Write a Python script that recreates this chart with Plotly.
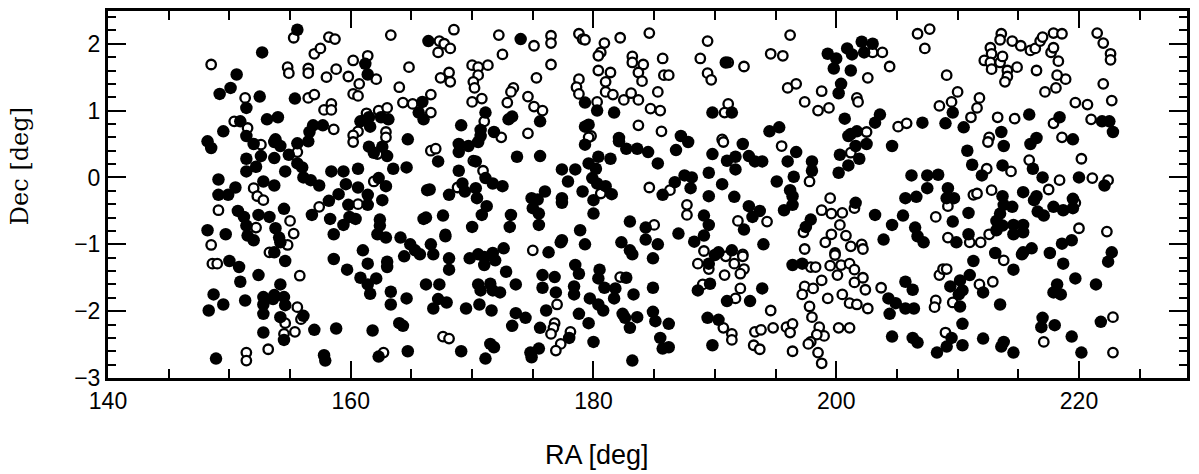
import plotly.graph_objects as go

# Filled points (RA, Dec)
filled = [
(155.6,2.21),(152.7,1.87),(150.6,1.54),(150.1,1.34),(149.2,1.25),(151.4,1.04),(152.5,1.21),(155.4,1.18),(161.2,1.7),(161.4,1.54),(166.4,2.04),(165.9,1.13),(156.9,0.78),(157.7,0.78),(156.6,0.68),(153.1,0.87),(154.0,0.9),(150.9,0.84),(149.5,0.69),(151.4,0.62),(153.8,0.57),(148.2,0.54),(160.8,0.84),(161.5,0.9),(162.5,0.9),(163.1,0.87),(161.6,0.76),(164.7,0.57),(165.6,0.97),(166.0,0.87),
(174.0,2.07),(175.6,0.84),(171.1,0.97),(173.0,0.87),(173.3,0.91),(169.1,0.78),(170.7,0.71),(171.8,0.68),(179.3,1.12),(180.3,1.0),(181.7,0.97),(179.6,0.79),(179.3,0.76),(182.1,0.59),
(190.9,1.72),(189.8,0.97),(191.4,0.97),(187.2,0.62),(194.5,0.69),(195.3,0.75),(199.3,1.85),(200.0,1.78),(199.8,1.63),(200.9,1.93),(201.3,1.84),(202.1,2.03),(203.0,2.0),(202.3,1.87),(201.2,1.6),(200.4,1.4),(200.2,1.26),(200.7,0.88),(203.6,0.94),(203.2,0.82),(201.2,0.65),(201.7,0.69),
(209.6,0.97),(207.1,0.82),(209.0,0.81),(210.5,0.75),(215.9,0.94),(218.4,0.9),(213.6,0.68),(216.5,0.59),(219.5,0.57),(221.9,0.84),(222.5,0.84),(222.8,0.68),
(148.5,0.44),(152.0,0.5),(153.7,0.53),(154.2,0.47),(155.6,0.51),(156.5,0.54),(152.6,0.32),(153.7,0.29),(151.4,0.28),(152.2,0.16),(151.4,0.09),(154.9,0.34),(154.6,0.09),(155.6,0.21),(156.0,0.15),(156.1,0.0),(156.7,-0.04),(157.4,-0.12),(158.4,0.09),(159.4,0.09),(160.6,0.13),(159.6,-0.1),(160.6,-0.15),(161.5,0.46),(161.9,0.37),(162.6,0.46),(163.0,0.32),(163.5,0.13),(164.6,0.15),(166.3,-0.19),(162.3,-0.01),(162.9,-0.13),(161.4,-0.26),(161.4,-0.41),(159.8,-0.41),(162.6,-0.34),(158.2,-0.35),(159.0,-0.25),(156.8,-0.56),(158.3,-0.62),(159.9,-0.59),(160.4,-0.62),(159.4,-0.71),(158.6,-0.85),(162.4,-0.63),(162.4,-0.72),(162.2,-0.85),(162.9,-0.9),(164.1,-0.9),(166.0,-0.62),(164.9,-1.0),(165.3,-1.09),(149.1,-0.03),(149.1,-0.26),(149.9,-0.26),(150.5,-0.15),(152.8,-0.06),(153.7,-0.12),(150.7,-0.5),(151.2,-0.59),(152.4,-0.56),(153.3,-0.59),(154.5,-0.47),(151.4,-0.72),(153.8,-0.76),(148.2,-0.79),(149.7,-0.85),(151.5,-0.87),(152.0,-0.94),(154.1,-0.9),(154.2,-0.97),(153.7,-1.12),(161.0,-1.09),
(167.2,0.24),(168.9,0.5),(168.9,0.38),(169.7,0.47),(170.5,0.53),(170.7,0.62),(170.3,0.24),(171.1,-0.01),(171.7,-0.09),(172.5,-0.13),(168.9,0.1),(166.5,-0.18),(169.2,-0.09),(170.3,-0.16),(168.1,-0.26),(169.4,-0.21),(170.4,-0.31),(173.7,0.31),(175.6,0.32),(174.9,-0.31),(176.0,-0.21),(175.4,-0.33),(177.4,-0.31),(177.4,-0.38),(171.2,-0.43),(170.8,-0.56),(173.2,-0.56),(175.0,-0.46),(175.5,-0.54),(167.6,-0.57),(166.2,-0.6),(170.0,-0.74),(173.1,-0.74),(175.5,-0.71),(167.8,-0.88),(166.6,-1.0),(172.6,-1.06),(170.5,-1.15),(171.7,-1.13),(176.3,-1.12),(177.3,-0.97),(177.4,0.12),(178.5,0.12),(177.9,-0.06),(179.1,-0.21),(179.6,0.21),(180.2,0.13),(179.9,-0.01),(180.3,-0.09),(181.0,-0.13),(181.5,-0.25),(180.0,-0.34),(180.4,0.31),(181.4,0.28),(179.3,0.49),(182.1,0.54),(182.7,0.43),(183.6,0.43),(184.5,0.38),(185.3,0.21),(185.7,-0.26),(180.0,-0.54),(178.9,-0.79),(179.3,-1.0),(177.4,-0.94),(183.0,-0.66),(184.3,-0.75),(184.3,-0.93),(182.3,-0.97),(183.0,-1.09),(185.3,-1.0),
(187.8,0.53),(186.8,0.41),(192.3,0.5),(189.8,0.35),(191.0,0.25),(191.7,0.31),(192.8,0.32),(193.3,0.24),(193.9,0.24),(191.7,0.12),(196.7,0.38),(196.0,0.24),(198.0,0.24),(198.0,0.1),(189.5,0.07),(187.5,0.03),(188.1,0.0),(186.7,-0.07),(188.0,-0.16),(190.6,-0.1),(189.5,-0.28),(191.6,-0.29),(195.1,-0.06),(196.5,0.01),(196.2,-0.19),(196.4,-0.28),(196.4,-0.41),(195.7,-0.49),(192.8,-0.43),(193.7,-0.5),(193.1,-0.59),(192.4,-0.78),(189.1,-0.57),(189.5,-0.71),(187.0,-0.84),(189.1,-0.87),(188.3,-0.96),(194.0,-1.0),(190.3,-1.12),(191.4,-1.09),(201.0,0.62),(201.6,0.47),(202.5,0.5),(204.6,0.47),(200.3,0.34),(201.9,0.28),(201.0,0.18),(200.2,0.07),(201.6,-0.38),(197.9,-0.63),(197.5,-0.74),(203.2,-0.56),(204.6,-0.71),(203.9,-0.93),
(210.8,0.4),(211.2,0.19),(213.8,0.47),(216.0,0.5),(216.2,0.13),(212.0,0.03),(213.7,0.18),(217.0,0.0),(220.0,0.0),(222.1,-0.12),(206.2,0.03),(207.5,0.03),(208.4,0.04),(207.5,-0.16),(209.2,-0.16),(205.7,-0.31),(206.6,-0.29),(209.1,-0.31),(209.7,-0.31),(215.4,-0.22),(216.5,-0.28),(216.3,-0.34),(213.7,-0.28),(213.8,-0.41),(214.5,-0.44),(219.5,-0.32),(219.5,-0.46),(218.7,-0.49),(217.9,-0.44),(216.6,-0.51),(217.1,-0.57),(210.9,-0.53),(205.5,-0.57),(209.6,-0.66),(206.5,-0.75),(207.2,-0.97),(206.7,-0.88),(209.9,-0.97),(210.9,-0.85),(213.2,-0.79),(213.2,-0.65),(213.5,-0.54),(213.7,-0.72),(214.6,-0.71),(215.4,-0.71),(215.4,-0.82),(214.6,-0.85),(216.1,-1.06),(215.4,-1.12),(213.1,-1.13),(217.6,-1.13),(218.6,-0.99),(219.4,-0.94),(222.7,-1.12),
(150.0,-1.25),(150.8,-1.34),(152.4,-1.46),(150.9,-1.56),(154.6,-1.25),(154.2,-1.6),(148.7,-1.75),(149.5,-1.9),(148.3,-1.99),(151.3,-1.84),(152.8,-1.79),(152.8,-1.9),(153.6,-1.82),(153.7,-1.76),(154.5,-1.79),(154.6,-1.91),(152.8,-2.04),(154.2,-2.09),(156.1,-2.07),(154.5,-2.43),(152.8,-2.32),(157.0,-2.28),(158.8,-2.26),(148.9,-2.71),(157.8,-2.66),(157.9,-2.74),(158.6,-1.22),(159.7,-1.38),(160.8,-1.5),(161.4,-1.29),(163.0,-1.26),(163.0,-1.34),(162.1,-1.51),(161.4,-1.6),(161.6,-1.74),(163.3,-1.71),(163.3,-1.9),(164.6,-1.81),(164.4,-1.18),(165.7,-1.15),(166.2,-1.6),(164.0,-2.18),(164.3,-2.22),(161.8,-2.29),(162.3,-2.68),(164.7,-2.6),
(166.8,-1.15),(168.1,-1.21),(168.1,-1.38),(169.8,-1.21),(171.0,-1.19),(171.0,-1.31),(171.9,-1.24),(172.8,-1.41),(173.6,-1.6),(167.3,-1.6),(170.5,-1.6),(170.7,-1.69),(171.5,-1.59),(171.7,-1.69),(172.3,-1.72),(167.2,-1.82),(167.9,-1.87),(166.8,-1.96),(169.5,-1.96),(170.6,-1.9),(171.6,-1.99),(173.6,-2.03),(174.4,-2.1),(173.3,-2.22),(169.1,-2.6),(171.5,-2.49),(171.8,-2.54),(171.1,-2.71),(174.8,-2.62),(175.5,-2.56),(174.9,-2.69),(175.8,-1.46),(176.8,-1.49),(175.8,-1.65),(176.9,-1.72),(176.1,-1.99),(175.6,-2.25),(178.0,-2.4),(178.4,-1.63),(178.4,-1.75),(178.8,-2.04),(179.6,-2.18),(180.0,-2.46),(183.2,-2.74),(178.5,-1.31),(178.8,-1.44),(180.5,-1.38),(180.4,-1.51),(180.9,-1.65),(181.8,-1.66),(181.7,-1.81),(182.7,-1.5),(183.3,-1.75),(179.7,-1.81),(180.4,-1.9),(180.8,-1.99),(182.4,-2.04),(182.6,-2.1),(183.6,-2.09),(183.0,-2.25),(184.9,-2.01),(185.1,-2.15),(185.5,-2.4),(185.7,-2.56),(184.9,-1.65),(184.9,-1.21),(183.2,-1.15),
(189.5,-1.29),(190.0,-1.16),(189.6,-1.59),(188.6,-1.69),(193.9,-1.66),(191.0,-1.85),(192.9,-1.85),(189.4,-2.1),(190.3,-2.13),(189.8,-2.51),(186.2,-2.19),(186.2,-2.54),(196.4,-1.31),(197.2,-1.29),(204.3,-1.81),(204.4,-2.04),(204.6,-2.38),
(211.3,-1.25),(214.6,-1.38),(215.3,-1.15),(218.7,-1.29),(222.4,-1.26),(211.0,-1.46),(209.4,-1.63),(210.2,-1.54),(210.4,-1.69),(210.1,-1.75),(212.1,-1.72),(213.5,-1.9),(210.2,-1.93),(205.7,-1.56),(206.3,-1.68),(204.9,-1.88),(205.7,-1.96),(206.4,-1.96),(206.3,-2.4),(206.7,-2.47),(209.5,-2.4),(210.4,-2.19),(210.4,-2.51),(209.1,-2.53),(208.3,-2.62),(212.1,-2.41),(213.8,-2.46),(213.6,-2.53),(214.6,-2.62),(217.0,-2.1),(216.9,-2.24),(218.0,-2.21),(219.4,-2.38),(220.2,-2.62),(221.8,-2.16),(218.2,-1.6),(217.9,-1.72),(218.5,-1.75),(219.7,-1.51),(221.4,-1.6),
]

# Open points (RA, Dec)
opened = [
(148.5,1.69),(155.3,2.09),(151.3,1.19),(154.8,1.65),(154.9,1.56),(156.5,1.63),(156.5,1.56),(156.5,1.19),(157.0,1.24),(157.0,1.85),(157.5,1.93),(158.2,2.1),(158.7,2.07),(158.0,1.5),(158.8,1.62),(159.8,1.51),(160.2,1.75),(161.4,1.82),(162.1,1.47),(160.7,1.4),(160.2,1.25),(160.6,1.22),(163.3,2.13),(164.8,1.65),(164.0,1.35),(164.3,1.12),(165.1,1.1),(166.6,1.24),(157.8,1.01),(158.4,1.1),(158.4,1.01),(158.6,0.72),(150.4,0.84),(151.5,0.74),(161.3,0.96),(162.3,1.0),(163.0,1.04),(160.6,0.69),(160.2,0.63),(162.9,0.68),(162.9,0.6),
(168.5,2.21),(167.3,2.04),(167.7,2.0),(167.2,1.87),(168.2,1.93),(172.2,2.13),(175.1,1.97),(176.5,2.12),(176.5,2.01),(172.5,1.84),(170.0,1.68),(170.5,1.65),(171.3,1.68),(170.5,1.53),(170.1,1.43),(170.2,1.34),(168.1,1.57),(167.4,1.49),(168.2,1.43),(166.6,0.97),(176.5,1.69),(175.3,1.49),(173.4,1.34),(173.2,1.28),(172.9,1.12),(170.8,1.18),(170.0,1.13),(174.6,1.21),(175.1,1.06),(175.8,1.0),(171.0,0.84),(174.6,0.66),(178.8,2.15),(179.1,2.07),(179.3,2.06),(180.9,2.01),(182.2,2.09),(184.6,2.16),(180.6,1.87),(180.4,1.82),(183.2,1.81),(183.2,1.72),(184.1,1.69),(183.7,1.57),(184.0,1.44),(185.7,1.78),(180.4,1.6),(181.4,1.57),(181.0,1.43),(178.8,1.47),(178.6,1.35),(178.8,1.25),(181.0,1.28),(181.6,1.24),(182.5,1.16),(183.1,1.26),(183.7,1.16),(185.3,1.28),(180.3,1.13),(184.7,1.03),(185.5,1.0),(183.7,0.78),(179.8,0.62),(185.6,0.69),(185.8,1.53),
(189.4,2.04),(186.2,1.53),(188.8,1.78),(189.4,1.56),(189.7,1.46),(191.1,1.72),(192.4,1.66),(194.6,1.85),(195.6,1.82),(196.2,2.13),(196.0,1.34),(196.7,1.4),(197.4,1.13),(198.5,1.0),(199.4,1.04),(198.8,1.29),(191.1,1.1),(190.8,0.97),(190.6,0.57),(203.0,1.87),(203.8,1.87),(204.4,1.66),(202.6,1.49),(201.7,1.19),(201.8,1.13),(205.1,0.76),(202.5,0.68),
(206.7,2.15),(207.7,2.22),(207.3,1.93),(209.1,1.53),(210.0,1.28),(209.5,1.13),(208.5,1.07),(211.8,1.19),(211.6,1.04),(211.1,0.9),(205.8,0.81),(213.3,0.9),(214.7,0.88),(217.9,0.81),(212.6,0.6),(218.6,0.6),(221.0,0.87),(219.7,1.12),(220.7,1.09),(222.7,1.15),(222.0,1.4),(217.2,1.28),(218.1,1.34),(218.9,1.47),(218.2,1.53),(216.5,1.6),(218.3,1.74),(217.7,1.87),(217.9,1.94),(216.0,1.9),(216.4,1.93),(216.8,2.04),(217.0,2.1),(217.9,2.16),(218.6,2.15),(215.2,1.97),(214.5,2.04),(213.6,2.15),(213.5,2.06),(212.7,1.94),(212.8,1.85),(212.2,1.75),(212.7,1.72),(213.5,1.72),(213.7,1.81),(212.8,1.62),(214.9,1.65),(214.1,1.6),(214.1,1.51),(213.9,1.43),(221.5,2.16),(222.0,2.01),(222.6,1.85),(222.6,1.76),
(152.6,0.49),(155.6,0.38),(160.2,0.53),(162.2,0.35),(166.6,0.4),(161.9,-0.06),(160.6,-0.4),(157.4,-0.44),(152.0,-0.16),(152.3,-0.28),(152.8,-0.34),(149.1,-0.49),(155.0,-0.65),(152.2,-0.75),(155.3,-0.84),(148.5,-1.01),(153.3,-1.12),(154.8,-1.01),
(167.0,0.43),(172.4,0.6),(170.1,0.25),(170.9,0.1),(168.8,-0.15),(175.0,-1.09),(179.6,0.6),(180.6,-0.24),(184.6,-0.15),(185.0,-0.71),(167.8,-0.85),
(190.7,0.53),(195.5,0.47),(186.3,-0.19),(197.8,-0.06),(191.9,-0.65),(194.3,-0.66),(187.7,-0.41),(187.7,-0.56),(189.1,-1.1),(192.3,-1.15),(201.2,0.37),(199.5,-0.31),(198.8,-0.49),(199.6,-0.54),(200.5,-0.53),(201.5,-0.46),(200.3,-0.71),(197.3,-0.82),(199.6,-0.85),(200.8,-0.87),(199.1,-0.97),(201.2,-1.03),(202.1,-1.0),(202.2,-1.07),(197.4,-1.07),(199.9,-1.13),
(212.5,0.53),(220.2,0.28),(215.9,0.26),(212.4,0.13),(214.4,0.09),(218.4,-0.04),(221.1,-0.01),(222.4,-0.04),(209.2,-0.43),(211.3,-0.26),(211.6,-0.24),(212.8,-0.19),(217.5,-0.18),(219.7,-0.38),(208.2,-0.59),(209.2,-0.9),(211.0,-0.97),(211.9,-0.97),(212.6,-0.85),(220.0,-0.76),(222.3,-0.81),
(148.6,-1.29),(149.0,-1.29),(155.8,-1.47),(155.6,-1.94),(154.6,-2.18),(155.9,-2.12),(154.5,-2.34),(155.4,-2.31),(151.4,-2.62),(151.4,-2.74),(153.2,-2.57),(162.7,-2.62),
(167.6,-2.38),(168.1,-2.41),(177.0,-1.9),(176.8,-2.18),(176.7,-2.25),(176.5,-2.34),(177.3,-2.49),(176.9,-2.59),(178.1,-2.31),(182.2,-1.49),
(188.6,-1.29),(189.5,-1.37),(190.9,-1.18),(191.6,-1.29),(192.3,-1.18),(192.4,-1.37),(192.1,-1.44),(190.8,-1.46),(189.0,-1.6),(192.1,-1.66),(191.7,-1.81),(194.6,-1.99),(190.7,-2.25),(191.4,-2.34),(191.4,-2.43),(193.3,-2.31),(193.8,-2.28),(194.8,-2.25),(195.9,-2.24),(196.4,-2.19),(196.2,-2.32),(193.2,-2.51),(193.7,-2.57),(196.4,-2.6),(197.9,-1.34),(198.3,-1.34),(197.4,-1.63),(197.2,-1.75),(198.1,-1.66),(198.8,-1.54),(199.5,-1.32),(199.9,-1.16),(200.1,-1.46),(200.4,-1.31),(201.1,-1.29),(201.5,-1.38),(202.2,-1.5),(201.5,-1.57),(202.4,-1.68),(203.7,-1.65),(199.3,-1.81),(200.5,-1.75),(201.1,-1.88),(201.7,-1.9),(202.6,-1.96),(197.8,-1.93),(198.0,-2.09),(198.6,-2.24),(199.0,-2.37),(198.4,-2.35),(197.9,-2.46),(197.7,-2.49),(198.5,-2.62),(198.8,-2.78),(200.2,-2.25),(201.1,-2.25),
(213.8,-1.24),(208.5,-1.46),(208.8,-1.37),(209.1,-1.37),(211.8,-1.6),(212.9,-1.56),(209.6,-1.87),(208.2,-1.84),(208.1,-1.94),(209.0,-2.32),(217.1,-2.46),(222.8,-2.09),(222.8,-2.62),
]

ra_filled = [p[0] for p in filled]
dec_filled = [p[1] for p in filled]
ra_open = [p[0] for p in opened]
dec_open = [p[1] for p in opened]

x_ticks = [140, 160, 180, 200, 220]
y_ticks = [-3, -2, -1, 0, 1, 2]

fig = go.Figure()
fig.add_trace(go.Scatter(x=ra_open, y=dec_open, mode="markers",
    marker=dict(symbol="circle", size=9.5, color="white", line=dict(color="black", width=2.3)),
    showlegend=False, hoverinfo="skip"))
fig.add_trace(go.Scatter(x=ra_filled, y=dec_filled, mode="markers",
    marker=dict(symbol="circle", size=12.5, color="black", line=dict(width=0)),
    showlegend=False, hoverinfo="skip"))

tick_font = dict(family="Liberation Sans, Arial", size=23, color="black")
axis_common = dict(showline=True, linecolor="black", linewidth=3, mirror="allticks",
                   ticks="inside", tickcolor="black", tickwidth=2, showgrid=False, zeroline=False,
                   tickfont=tick_font)
fig.update_xaxes(range=[140, 228.9], tickvals=x_ticks, ticklen=17,
                 minor=dict(dtick=5, tick0=140, ticklen=9, ticks="inside", tickcolor="black", tickwidth=2),
                 **axis_common)
fig.update_yaxes(range=[-3, 2.49], tickvals=y_ticks, ticklen=18,
                 minor=dict(dtick=0.2, tick0=0, ticklen=8, ticks="inside", tickcolor="black", tickwidth=2),
                 **axis_common)
fig.update_layout(width=1199, height=474, margin=dict(l=108, r=12, t=8, b=96),
                  plot_bgcolor="white", paper_bgcolor="white",
                  annotations=[
                      dict(text="RA [deg]", xref="paper", yref="paper", x=0.453, y=-0.21,
                           xanchor="center", yanchor="middle", showarrow=False,
                           font=dict(family="Liberation Sans, Arial", size=27, color="#000000")),
                      dict(text="Dec [deg]", xref="paper", yref="paper", x=-0.082, y=0.576,
                           xanchor="center", yanchor="middle", showarrow=False, textangle=-90,
                           font=dict(family="DejaVu Serif", size=24, color="#000000")),
                  ])
fig.write_html("out.html")
